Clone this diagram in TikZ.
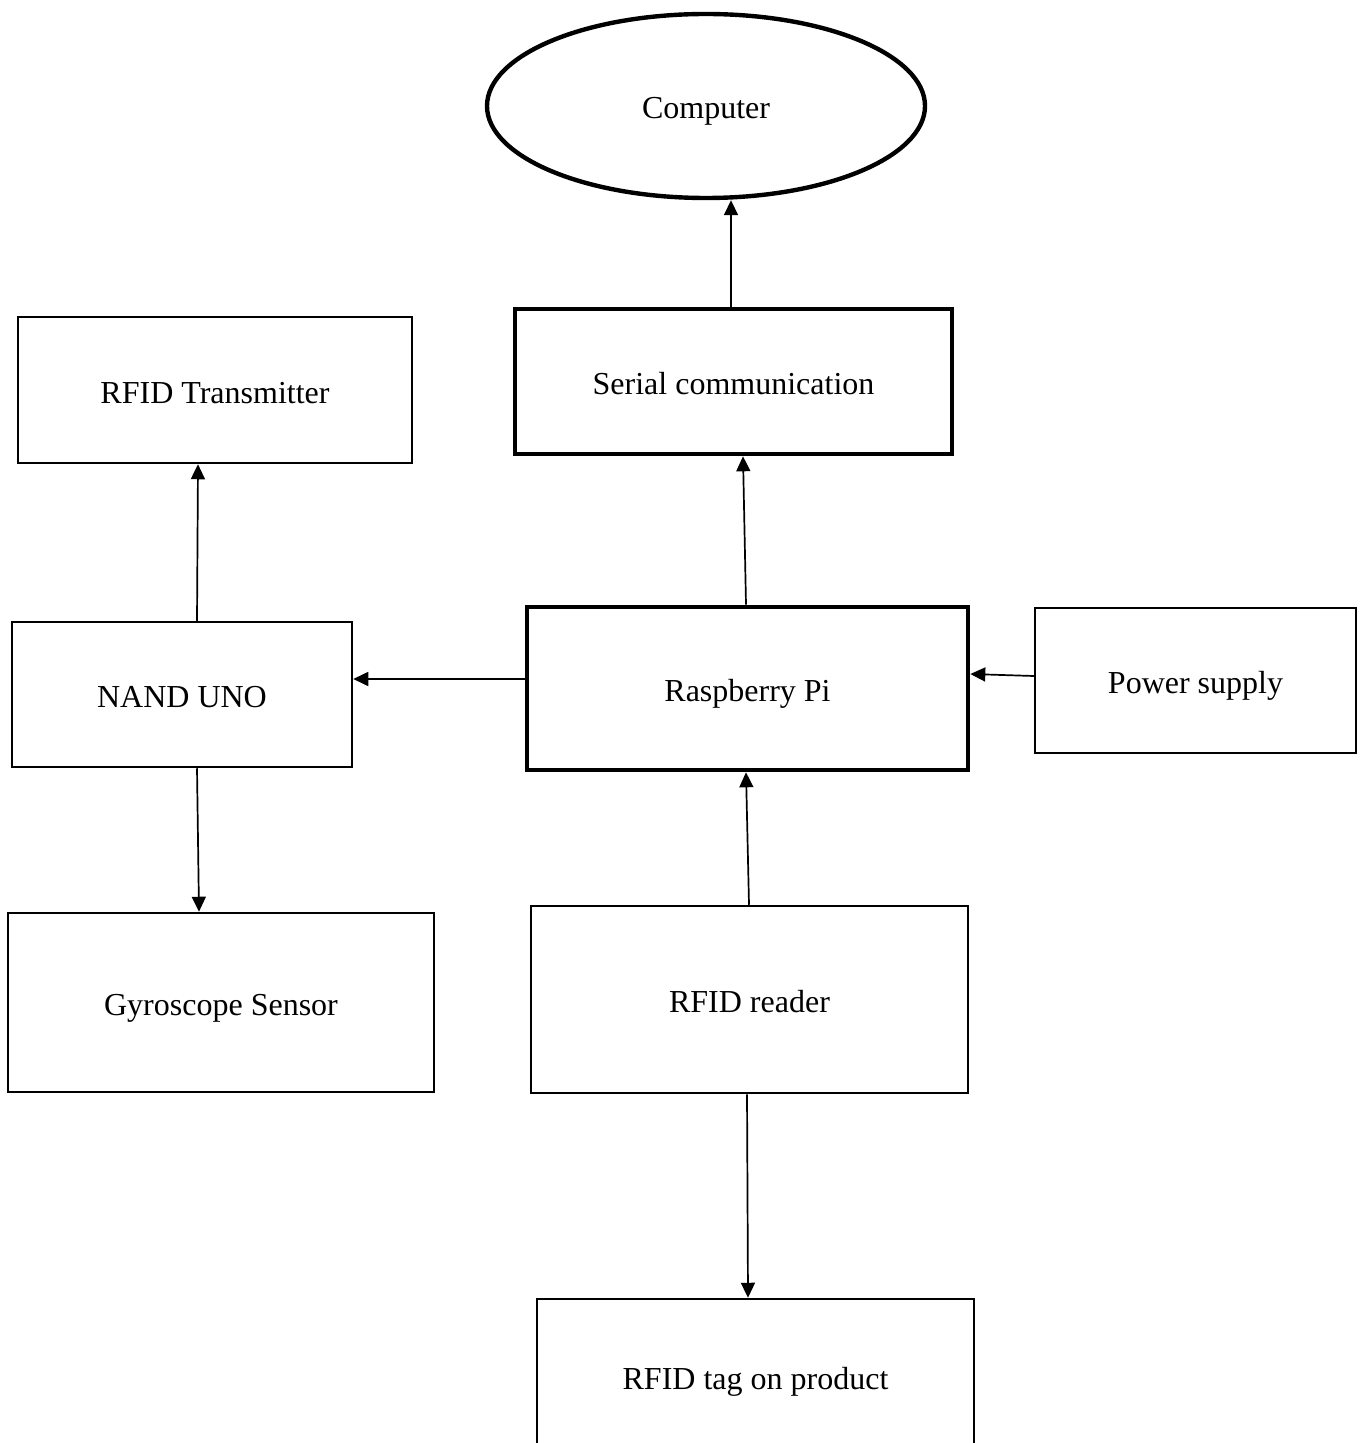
\documentclass[tikz,border=0pt]{standalone}
\usepackage{fontspec}
\setmainfont{Liberation Serif}
\usetikzlibrary{shapes.geometric,arrows.meta,calc}
\begin{document}
\begin{tikzpicture}[x=0.5pt,y=-0.5pt,
  every node/.style={font=\fontsize{16}{19}\selectfont, inner sep=0pt, text height=14pt, text depth=1pt},
  thinbox/.style={draw, rectangle, line width=1.25pt},
  thickbox/.style={draw, rectangle, line width=2.3pt},
  arr/.style={line width=0.85pt, -{Triangle[length=7.5pt,width=7pt]}}]
\useasboundingbox (0,0) rectangle (1359,1443);
\clip (0,0) rectangle (1359,1443);
\node[draw, ellipse, line width=2.2pt, minimum width=438*0.5pt, minimum height=184*0.5pt] (computer) at (706,106) {Computer};
\node[thickbox, minimum width=437*0.5pt, minimum height=145*0.5pt] (serial) at (733.5,381.5) {Serial communication};
\node[thickbox, minimum width=441*0.5pt, minimum height=163*0.5pt] (rpi) at (747.5,688.5) {Raspberry Pi};
\node[thinbox, minimum width=321*0.5pt, minimum height=145*0.5pt] (power) at (1195.5,680.5) {Power supply};
\node[thinbox, minimum width=394*0.5pt, minimum height=146*0.5pt] (tx) at (215,390) {RFID Transmitter};
\node[thinbox, minimum width=340*0.5pt, minimum height=145*0.5pt] (nand) at (182,694.5) {NAND UNO};
\node[thinbox, minimum width=426*0.5pt, minimum height=179*0.5pt] (gyro) at (221,1002.5) {Gyroscope Sensor};
\node[thinbox, minimum width=437*0.5pt, minimum height=187*0.5pt] (reader) at (749.5,999.5) {RFID reader};
\node[thinbox, minimum width=437*0.5pt, minimum height=154*0.5pt] (tag) at (755.5,1376) {RFID tag on product};
\draw[arr] (serial.north -| 731,0) -- (computer.south -| 731,0);
\draw[arr] (rpi.north -| 746,0) -- (serial.south -| 743,0);
\draw[arr] (power.west |- 0,676) -- (rpi.east |- 0,674);
\draw[arr] (rpi.west |- 0,679) -- (nand.east |- 0,679);
\draw[arr] (nand.north -| 197,0) -- (tx.south -| 198,0);
\draw[arr] (nand.south -| 197,0) -- (gyro.north -| 199,0);
\draw[arr] (reader.north -| 749,0) -- (rpi.south -| 746,0);
\draw[arr] (reader.south -| 747,0) -- (tag.north -| 748,0);
\end{tikzpicture}
\end{document}
